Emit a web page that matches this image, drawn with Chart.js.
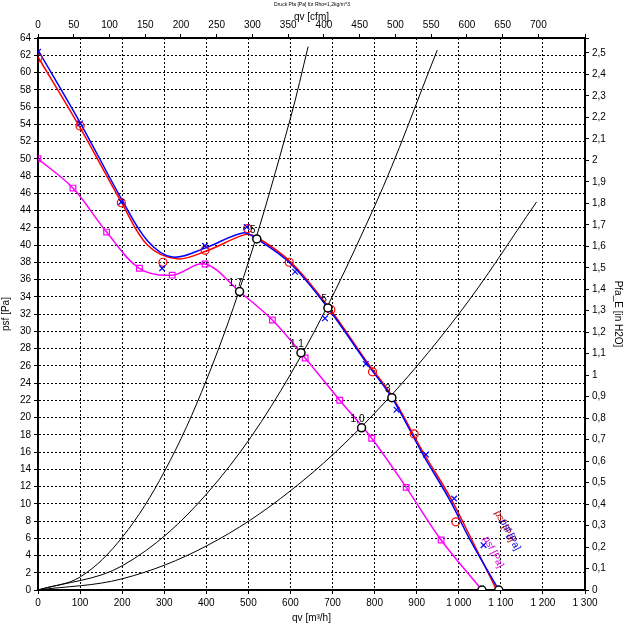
<!DOCTYPE html>
<html><head><meta charset="utf-8">
<script src="https://cdn.jsdelivr.net/npm/chart.js@4/dist/chart.umd.min.js"></script>
<style>html,body{margin:0;background:#fff}#wrap{width:624px;height:624px}</style>
</head><body><div id="wrap"><canvas id="c"></canvas></div>
<script>
// ================= DATA =================
// fitted curves
const blueQ = [0, 100, 200, 260, 320, 400, 487, 520, 601, 689, 784, 841, 915, 979, 1027, 1095];
const blueP = [62.6, 54.2, 45.2, 40.5, 38.6, 39.7, 41.4, 40.7, 37.8, 32.7, 26.1, 22.3, 15.7, 10.4, 5.8, 0];
const redQ = [0, 100, 200, 260, 330, 400, 492, 520, 601, 689, 784, 841, 915, 979, 1027, 1090];
const redP = [61.8, 53.6, 44.8, 40.0, 38.4, 39.3, 41.2, 40.9, 38.0, 32.9, 26.3, 22.5, 16.0, 10.8, 6.2, 0];
const magQ = [0, 83, 163, 241, 319, 397, 479, 557, 635, 717, 793, 875, 958, 1055];
const magP = [50.0, 46.6, 41.5, 37.3, 36.5, 37.8, 34.6, 31.3, 26.9, 22.0, 17.6, 11.9, 5.8, 0];
// measured points
const blueMarkQ = [0, 100, 198, 295, 397, 496, 611, 682, 779, 852, 922, 989, 1059];
const blueMarkP = [62.4, 54.1, 45.0, 37.3, 39.9, 42.1, 36.9, 31.5, 26.2, 20.9, 15.7, 10.6, 5.2];
const redMarkQ = [0, 100, 198, 297, 397, 498, 597, 696, 795, 894, 993];
const redMarkP = [61.7, 53.8, 44.9, 38.0, 39.4, 41.9, 38.0, 32.5, 25.3, 18.1, 7.9];
const magMarkQ = [0, 83, 163, 241, 319, 397, 557, 635, 717, 793, 875, 958];
const magMarkP = [50.0, 46.6, 41.5, 37.3, 36.5, 37.8, 31.3, 26.9, 22.0, 17.6, 11.9, 5.8];
// system curves
const sys1Q = [0, 100, 200, 300, 400, 500, 600, 642];
const sys1P = [0, 1.5, 6.1, 13.7, 24.3, 38.0, 54.7, 63.0];
const sys2Q = [0, 200, 400, 600, 800, 949];
const sys2P = [0, 2.8, 11.1, 25.0, 44.5, 62.6];
const sys3Q = [0, 200, 400, 600, 800, 1000, 1185];
const sys3P = [0, 1.3, 5.1, 11.5, 20.5, 32.0, 45.0];
// operating points
const opQ = [479, 520, 625, 689, 769, 841, 1055, 1095];
const opP = [34.6, 40.7, 27.5, 32.7, 18.8, 22.3, 0, 0];
const opLabels = ["1,7", "5", "1,1", "5", "1,0", "3", "", ""];

const CFM = 0.5886;      // m³/h -> cfm
const INH2O = 0.04015;   // Pa -> scale of right axis

function pts(q, p) { return q.map((v, i) => ({ x: v, y: p[i] })); }

const curve = (data, color, w) => ({ data, borderColor: color, borderWidth: w, pointRadius: 0, showLine: true, tension: 0.35, fill: false });
const markerSet = (data, color, style) => ({ data, borderColor: color, backgroundColor: "rgba(0,0,0,0)", pointStyle: style, pointRadius: 4, pointBorderWidth: 1.2, showLine: false });

const ctx = document.getElementById("c").getContext("2d");
const commaFmt = v => Math.abs(v * 10 - Math.round(v * 10)) > 1e-6 || v > 2.55 ? "" : (Math.round(v * 10) / 10).toString().replace(".", ",");

const textPlugin = {
  id: "texts",
  afterDraw(chart) {
    const c = chart.ctx, x = chart.scales.x, y = chart.scales.y;
    c.save();
    c.fillStyle = "#000";
    c.font = "5px Arial";
    c.textAlign = "center";
    c.fillText("Druck Pfa [Pa] für Rho=1,2kg/m^3", 312, 6);
    c.font = "10px Arial";
    opQ.forEach((q, i) => {
      if (opLabels[i]) c.fillText(opLabels[i], x.getPixelForValue(q) - 4, y.getPixelForValue(opP[i]) - 6);
    });
    const rot = (t, q, p, col) => {
      c.save();
      c.translate(x.getPixelForValue(q), y.getPixelForValue(p));
      c.rotate(1.1);
      c.fillStyle = col;
      c.textAlign = "left";
      c.fillText(t, 0, 0);
      c.restore();
    };
    rot("psf [Pa]", 1058, 6, "#e000e0");
    rot("psf [Pa]", 1085, 9, "#c00000");
    rot("psf [Pa]", 1098, 8, "#0000e0");
    c.restore();
  }
};

new Chart(ctx, {
  type: "scatter",
  data: {
    datasets: [
      curve(pts(sys1Q, sys1P), "#000", 1),
      curve(pts(sys2Q, sys2P), "#000", 1),
      curve(pts(sys3Q, sys3P), "#000", 1),
      curve(pts(magQ, magP), "#ff00ff", 1.5),
      curve(pts(redQ, redP), "#ff0000", 1.5),
      curve(pts(blueQ, blueP), "#0000ff", 1.5),
      markerSet(pts(magMarkQ, magMarkP), "#ff00ff", "rect"),
      markerSet(pts(redMarkQ, redMarkP), "#ff0000", "circle"),
      markerSet(pts(blueMarkQ, blueMarkP), "#0000ff", "crossRot"),
      { data: pts(opQ, opP), borderColor: "#000", backgroundColor: "#fff", pointRadius: 4, pointBorderWidth: 1.5, showLine: false }
    ].map((d, i) => Object.assign(d, { order: 20 - i }))
  },
  options: {
    responsive: true, maintainAspectRatio: false, animation: false,
    layout: { padding: 0 },
    plugins: { legend: { display: false }, tooltip: { enabled: false } },
    scales: {
      x: {
        type: "linear", position: "bottom", min: 0, max: 1300,
        ticks: { stepSize: 100, color: "#000", font: { size: 10 }, maxRotation: 0,
          callback: v => v >= 1000 ? Math.floor(v / 1000) + " " + String(v % 1000).padStart(3, "0") : v },
        grid: { color: "#000", lineWidth: 1, tickLength: 4 },
        border: { color: "#000", width: 2, dash: [2, 2] },
        title: { display: true, text: "qv [m³/h]", color: "#000", font: { size: 10 }, padding: 0 },
        afterFit: s => { s.height = 34; }
      },
      x2: {
        type: "linear", position: "top", min: 0, max: 1300 * CFM,
        ticks: { stepSize: 50, color: "#000", font: { size: 10 }, maxRotation: 0,
          callback: v => v % 50 === 0 ? v : "" },
        grid: { drawOnChartArea: false, color: "#000", tickLength: 4 },
        border: { color: "#000", width: 2 },
        title: { display: true, text: "qv [cfm]", color: "#000", font: { size: 10 }, padding: { top: 11, bottom: 0 } },
        afterFit: s => { s.height = 38; }
      },
      y: {
        position: "left", min: 0, max: 64,
        ticks: { stepSize: 2, color: "#000", font: { size: 10 } },
        grid: { color: "#000", lineWidth: 1, tickLength: 4 },
        border: { color: "#000", width: 2, dash: [2, 2] },
        title: { display: true, text: "psf [Pa]", color: "#000", font: { size: 10 }, padding: 0 },
        afterFit: s => { s.width = 38; }
      },
      y2: {
        position: "right", min: 0, max: 64 * INH2O,
        ticks: { stepSize: 0.1, color: "#000", font: { size: 10 }, callback: commaFmt },
        grid: { drawOnChartArea: false, color: "#000", tickLength: 4 },
        border: { color: "#000", width: 2 },
        title: { display: true, text: "Pfa_E [in H2O]", color: "#000", font: { size: 10 }, padding: 0 },
        afterFit: s => { s.width = 39; }
      }
    }
  },
  plugins: [textPlugin]
});
</script></body></html>
